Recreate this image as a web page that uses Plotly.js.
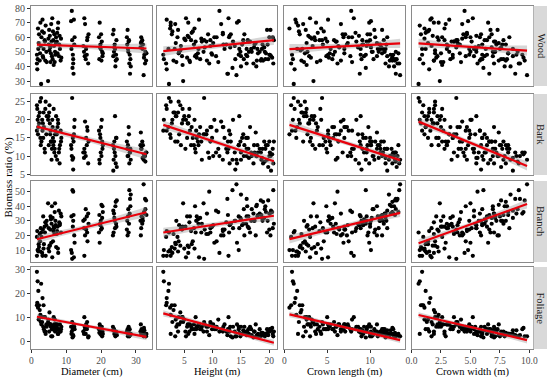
<!DOCTYPE html>
<html><head><meta charset="utf-8">
<script src="https://cdn.plot.ly/plotly-3.0.1.min.js"></script>
<style>html,body{margin:0;padding:0;background:#fff}#chart{width:550px;height:378px}</style>
</head><body><div id="chart"></div>
<script>
// per-tree measurements (same trees in every panel)
const diameter = [
1.6,1.8,2.0,1.7,2.2,1.9,2.4,2.6,2.1,2.8,2.5,2.9,1.6,2.7,
3.1,3.3,3.5,3.8,3.2,4.0,4.3,3.6,4.4,3.9,4.1,3.4,
4.8,5.0,5.3,5.6,5.1,5.8,5.5,5.2,5.9,4.9,5.4,5.7,
6.1,6.3,6.6,6.0,6.8,6.4,7.0,6.2,6.9,6.5,7.1,6.7,
7.3,7.6,7.9,8.2,7.4,8.4,7.7,8.0,8.5,7.5,8.1,8.6,
11.6,12.0,11.8,12.2,11.4,12.4,11.7,12.1,11.5,12.3,11.9,12.0,
15.2,15.6,16.1,14.9,16.3,15.4,15.9,16.0,15.1,16.4,15.7,15.3,
19.6,20.1,19.4,20.4,19.8,20.2,19.5,20.0,19.9,20.3,19.7,20.5,
23.6,24.2,23.4,24.5,23.9,24.0,23.5,24.4,23.7,24.3,24.1,23.8,
27.6,28.1,27.4,28.5,27.9,28.3,27.5,28.0,28.4,27.7,28.2,27.8,
31.5,32.2,31.8,32.6,31.4,32.9,32.0,31.6,32.4,31.9,32.7,31.3,32.3,33.0];
const height = [
1.3,1.4,2.2,1.9,2.8,2.5,3.1,2.6,3.5,2.3,4.0,3.8,1.8,4.4,
2.9,4.6,3.3,5.2,1.9,5.9,4.1,6.3,3.6,7.0,2.6,5.5,
4.8,6.7,5.6,7.4,3.9,8.1,6.0,4.3,6.9,5.0,8.6,3.4,
7.8,6.2,9.2,5.3,8.4,4.7,10.1,6.5,7.1,9.6,5.8,11.0,
8.9,6.8,10.6,7.5,11.8,9.0,5.7,12.4,8.0,9.8,13.0,7.2,
11.2,9.4,13.5,7.6,14.6,10.3,8.5,12.7,16.0,11.9,9.9,14.0,
12.8,15.5,10.7,13.9,17.2,11.5,14.6,9.6,16.4,13.2,12.1,15.0,
14.3,17.8,12.9,16.1,15.2,13.6,18.6,11.8,16.8,14.9,13.1,19.4,
19.6,18.9,15.6,19.8,17.4,14.7,20.3,16.2,18.3,15.9,17.7,19.1,
20.2,20.7,20.0,15.0,16.6,12.6,18.8,15.4,19.3,17.9,20.1,16.9,
20.6,14.2,20.8,16.0,17.6,18.5,19.7,16.3,20.0,18.7,19.2,17.3,20.5,18.0];
const crownLength = [
0.9,1.0,1.5,1.2,1.8,0.6,2.0,1.4,2.6,1.1,2.4,3.0,0.8,3.3,
1.7,2.9,2.1,3.6,1.3,4.2,2.7,3.9,2.3,5.0,1.6,3.1,
3.4,4.5,2.8,5.3,2.5,6.0,3.8,1.9,4.9,3.2,6.4,2.2,
5.6,4.1,6.8,3.0,5.9,2.6,7.4,4.6,5.1,6.3,3.5,7.9,
6.1,4.3,7.7,5.4,8.3,6.6,3.7,9.1,4.8,7.0,8.7,5.2,
7.8,6.2,9.5,5.1,10.1,6.9,4.4,8.8,11.2,7.3,5.7,9.0,
8.1,10.4,7.5,9.6,11.8,6.6,8.9,5.8,11.0,10.0,7.0,9.3,
9.9,12.3,7.9,10.8,9.2,8.4,12.9,7.1,11.5,10.2,8.6,13.3,
10.5,12.6,9.7,13.1,11.2,8.9,12.0,10.0,11.7,9.5,12.8,11.3,
11.4,13.4,10.6,12.2,9.8,13.0,11.9,9.1,12.5,10.9,12.7,10.3,
12.0,13.5,11.6,13.2,10.8,12.9,11.1,9.6,12.4,11.8,13.0,10.1,12.6,11.4];
const crownWidth = [
0.9,0.7,1.2,1.5,0.8,1.1,1.9,2.3,1.4,0.6,2.0,2.6,1.0,1.7,
1.3,2.2,0.9,2.8,1.6,1.9,3.2,1.2,2.5,3.6,0.7,2.1,
2.4,3.0,1.8,4.1,1.5,3.4,2.7,2.0,4.6,1.1,3.8,2.9,
3.3,2.3,4.4,1.7,5.0,2.6,3.9,1.4,4.9,3.1,2.2,4.2,
3.6,2.8,5.3,3.0,4.7,5.8,1.9,4.0,4.3,2.5,5.5,3.5,
4.5,5.6,6.1,3.2,4.8,5.0,3.8,6.6,5.3,4.1,3.5,5.9,
5.2,6.0,4.6,5.7,7.0,4.3,6.4,3.9,5.5,6.8,4.9,6.2,
6.5,7.4,5.8,6.9,6.0,5.1,7.8,4.7,6.3,7.1,5.4,8.2,
6.7,8.0,5.9,7.6,7.2,5.5,8.6,6.4,7.0,6.0,7.9,6.8,
7.3,9.1,6.6,8.4,7.0,8.8,7.7,6.2,8.1,7.5,9.4,6.9,
8.3,9.8,7.8,9.2,7.4,9.6,8.0,7.1,8.9,8.6,9.0,7.6,9.5,8.2];
const wood = [
48,45,52,38,62,66,44,70,56,28,49,60,42,54,
64,47,52,58,72,44,50,63,43,57,68,46,
30,55,61,49,65,57,43,51,47,59,53,69,
45,58,62,73,50,41,56,64,48,54,60,43,
57,66,47,52,63,44,70,55,59,49,61,46,
78,42,39,72,71,60,58,35,52,55,48,45,
73,45,60,54,42,69,48,58,50,62,52,47,
70,44,60,47,55,57,45,62,52,50,53,49,
65,44,62,45,55,52,47,58,50,48,40,53,
65,42,60,40,57,35,55,58,45,52,48,50,
60,34,58,42,56,44,55,57,48,52,50,53,46,49];
const bark = [
17,20,18,23,19,16,22,15,21,26,25,14,24,13,
20,19,22,12,17,23,16,18,21,11,25,15,
20,13,19,14,22,9,17,24,12,21,16,14,
18,13,11,20,16,23,10,15,17,14,21,12,
16,20,11,13,9,17,19,12,14,18,8,15,
10,9.5,9,16,13,20,26,14,12,18,15,6.3,
12,10,17,11,8,19.5,13,18,9.5,14,15,11,
8,10,17,12,15,20,9,18,11,14,16,13,
9,8,13,7,11,21,6,15,12,15,10,14,
10,8,14,9,18,11,12,16,12,13,11,10,
12,9,14,10,16.5,11,13,12,10,9.5,8.5,13,10.5,11];
const branch = [
6,10,9,23,12,10,21,9,14,22,16,19,19,25,
8,24,11,26,6,29,27,14,30,22,6,33,
42,25,13,31,9,28,33,13,40,11,24,15,
32,23,21,5,42,26,27,16,30,25,12,36,
21,11,37,28,23,35,8,29,22,26,27,33,
8,50,51,5,10,15,4,34,33,20,26,30,
6,38,16,30,35,20,33,22,25,28,24,31,
15,41,22,40,27,25,34,24,30,32,28,36,
22,43,20,44,30,25,37,26,35,28,40,32,
20,51,24,48,22,45,30,28,40,33,35,38,
25,55,28,45,20,44,30,33,35,32,38,30,36,34];
const foliage = [
29,25,21,16,15,14,13,11,9,24,10,7,15,8,
8,10,15,4,18,4,7,5,6,10,3,6,
8,7,7,6,4,6,7,12,5,9,7,2,
5,6,6,2,4,10,7,5,5,7,7,9,
6,3,5,7,5,4,3,4,5,7,4,6,
4,2.5,1.5,7,6,5,8,5,3,6,5,2,
10,3,6,4,1.5,5,5,8,3,2,7,6,
7,2.5,5,4,3,6,3.5,4,5,2,6,3,
5,3,6,2.5,4,3.5,4.5,3,5,4,2,3,
5,2,4,3,6,2.5,3.5,4.5,3,2,5,2.5,
3,2,4,2.5,7,2,3.5,5,4.5,3,2,4,5.5,3];

// fitted linear trends (value at min x, value at max x), per column
const woodFitStart    = [54.9, 50.5, 51.9, 55.8];
const woodFitEnd      = [52.3, 58.0, 55.8, 50.8];
const barkFitStart    = [18.1, 18.6, 18.6, 19.5];
const barkFitEnd      = [10.5, 8.6, 8.9, 7.3];
const branchFitStart  = [17.4, 22.0, 17.5, 14.7];
const branchFitEnd    = [35.9, 33.5, 35.5, 41.6];
const foliageFitStart = [10.2, 11.6, 11.2, 10.9];
const foliageFitEnd   = [1.8, -0.7, 0.4, 0.4];

const colTitles = ["Diameter (cm)", "Height (m)", "Crown length (m)", "Crown width (m)"];
const rowTitles = ["Wood", "Bark", "Branch", "Foliage"];
const xTickVals = [[0,10,20,30],[5,10,15,20],[0,5,10],[0,2.5,5,7.5,10]];
const xTickText = [["0","10","20","30"],["5","10","15","20"],["0","5","10"],["0.0","2.5","5.0","7.5","10.0"]];
const yTickVals = [[30,40,50,60,70,80],[5,10,15,20,25],[10,20,30,40,50],[0,10,20,30]];

const xCols = [diameter, height, crownLength, crownWidth];
const yRows = [wood, bark, branch, foliage];
const fitStarts = [woodFitStart, barkFitStart, branchFitStart, foliageFitStart];
const fitEnds = [woodFitEnd, barkFitEnd, branchFitEnd, foliageFitEnd];

// layout geometry (pixels)
const W = 550, H = 378;
const colL = [31, 157.3, 284.3, 411.5], colR = [152, 276.7, 405, 532.7];
const rowT = [6, 94, 181, 267], rowB = [86, 175, 262, 349];
const xRanges = [[-0.1,34.6],[0.24,21.3],[0,14.07],[0,10.28]];
const yRanges = [[26.6,81.4],[4.8,27.1],[1.8,57.3],[-3.3,31]];

const FONT = "'Liberation Serif', 'Times New Roman', serif";
const traces = [];
const layout = {
  width: W, height: H, margin: {l:0, r:0, t:0, b:0},
  paper_bgcolor: "#fff", plot_bgcolor: "#fff", showlegend: false,
  shapes: [], annotations: []
};

for (let r = 0; r < 4; r++) {
  for (let c = 0; c < 4; c++) {
    const i = r*4 + c + 1;
    const xs = xCols[c], ys = yRows[r];
    const xa = "x" + (i === 1 ? "" : i), ya = "y" + (i === 1 ? "" : i);
    const n = xs.length;
    const x0 = Math.min(...xs), x1 = Math.max(...xs);
    const y0 = fitStarts[r][c], y1 = fitEnds[r][c];
    const pred = x => y0 + (y1 - y0) * (x - x0) / (x1 - x0);
    const xbar = xs.reduce((a,b)=>a+b,0)/n;
    let sxx = 0, sse = 0;
    for (let k = 0; k < n; k++) { sxx += (xs[k]-xbar)**2; sse += (ys[k]-pred(xs[k]))**2; }
    const s = Math.sqrt(sse/(n-2));
    const gx = [], up = [], lo = [];
    for (let k = 0; k <= 40; k++) {
      const x = x0 + (x1 - x0) * k / 40;
      const se = 1.98 * s * Math.sqrt(1/n + (x-xbar)**2/sxx);
      gx.push(x); up.push(pred(x) + se); lo.push(pred(x) - se);
    }
    traces.push({type:"scatter", mode:"markers", x: xs, y: ys, xaxis: xa, yaxis: ya,
      marker:{color:"#000", size:4.2}, hoverinfo:"skip"});
    traces.push({type:"scatter", mode:"lines", x: gx.concat(gx.slice().reverse()),
      y: up.concat(lo.slice().reverse()), fill:"toself", fillcolor:"rgba(153,153,153,0.4)",
      line:{width:0}, xaxis: xa, yaxis: ya, hoverinfo:"skip"});
    traces.push({type:"scatter", mode:"lines", x:[x0, x1], y:[y0, y1], xaxis: xa, yaxis: ya,
      line:{color:"#e8000b", width:2.2}, hoverinfo:"skip"});

    const axBase = {showgrid:false, zeroline:false, showline:true, mirror:true,
      linecolor:"#8a8a8a", linewidth:1, ticklen:3, tickwidth:1, tickcolor:"#333",
      tickfont:{family:FONT, size:9.5, color:"#4d4d4d"}, fixedrange:true};
    layout["xaxis" + (i === 1 ? "" : i)] = Object.assign({}, axBase, {
      domain:[colL[c]/W, colR[c]/W], anchor: ya, range: xRanges[c],
      tickmode:"array", tickvals: xTickVals[c], ticktext: xTickText[c],
      showticklabels: r === 3, ticks: r === 3 ? "outside" : ""});
    layout["yaxis" + (i === 1 ? "" : i)] = Object.assign({}, axBase, {
      domain:[1 - rowB[r]/H, 1 - rowT[r]/H], anchor: xa, range: yRanges[r],
      tickmode:"array", tickvals: yTickVals[r],
      tickfont:{family:FONT, size:10, color:"#4d4d4d"},
      showticklabels: c === 0, ticks: c === 0 ? "outside" : ""});
  }
}

for (let r = 0; r < 4; r++) {
  layout.shapes.push({type:"rect", xref:"paper", yref:"paper",
    x0: 533.5/W, x1: 547/W, y0: 1 - rowB[r]/H, y1: 1 - rowT[r]/H,
    fillcolor:"#d9d9d9", line:{width:0}});
  layout.annotations.push({xref:"paper", yref:"paper", x: 540.5/W,
    y: 1 - (rowT[r] + rowB[r]) / 2 / H, text: rowTitles[r], showarrow:false,
    textangle: 90, xanchor:"center", yanchor:"middle",
    font:{family:FONT, size:10.5, color:"#1a1a1a"}});
}
for (let c = 0; c < 4; c++) {
  layout.annotations.push({xref:"paper", yref:"paper", x: (colL[c] + colR[c]) / 2 / W,
    y: 1 - 372/H, text: colTitles[c], showarrow:false, xanchor:"center", yanchor:"middle",
    font:{family:FONT, size:10.5, color:"#000"}});
}
layout.annotations.push({xref:"paper", yref:"paper", x: 8/W, y: 1 - 177.5/H,
  text:"Biomass ratio (%)", showarrow:false, textangle:-90, xanchor:"center", yanchor:"middle",
  font:{family:FONT, size:11, color:"#000"}});

Plotly.newPlot("chart", traces, layout, {displayModeBar:false, staticPlot:true});
</script>
</body></html>
